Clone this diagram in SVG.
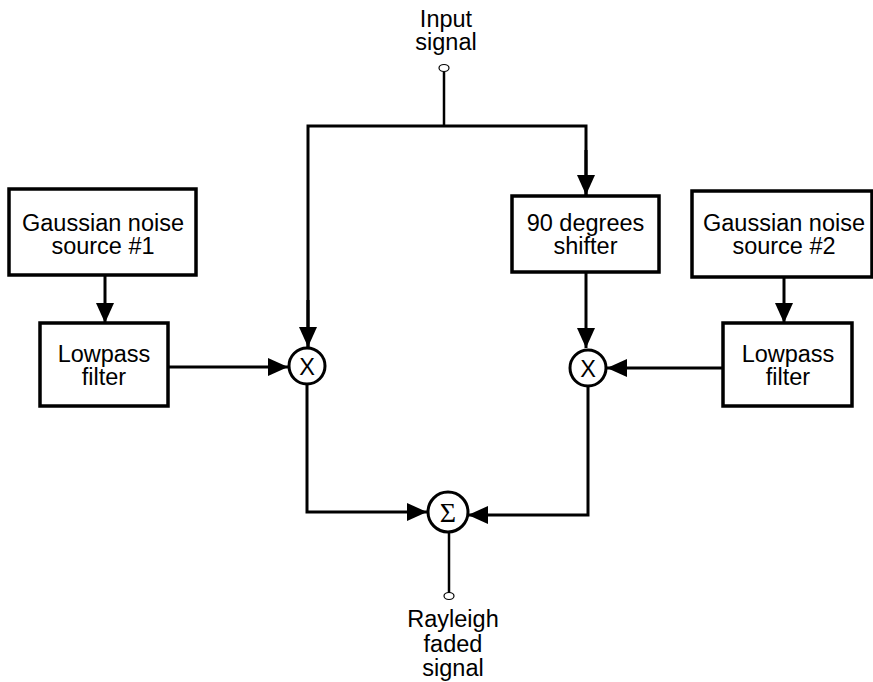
<svg xmlns="http://www.w3.org/2000/svg" width="873" height="682" viewBox="0 0 873 682">
<defs>
<marker id="arr" markerUnits="userSpaceOnUse" markerWidth="20" markerHeight="18" refX="20" refY="9" orient="auto">
<path d="M0,0 L20,9 L0,18 Z" fill="#000"/>
</marker>
<style>
.box{fill:#fff;stroke:#000;stroke-width:3.5}
.op{fill:#fff;stroke:#000;stroke-width:3}
.t{font-family:"Liberation Sans",Arial,Helvetica,sans-serif;font-size:23.5px;fill:#000;text-anchor:middle}
.sym{font-family:"Liberation Serif","Times New Roman",serif;font-size:28px;fill:#000;text-anchor:middle}
.w{fill:none;stroke:#000;stroke-width:3}
.a{fill:none;stroke:#000;stroke-width:3;marker-end:url(#arr)}
.port{fill:#fff;stroke:#000;stroke-width:1.2}
</style>
</defs>
<rect width="873" height="682" fill="#fff"/>
<g id="connectors">
<line class="w" x1="444" y1="72" x2="444" y2="126" style="stroke-width:2.5"/>
<polyline class="w" points="308,349 308,126 586,126 586,196"/>
<line class="a" x1="308" y1="300" x2="308" y2="347"/>
<line class="a" x1="586" y1="150" x2="586" y2="195"/>
<line class="a" x1="105" y1="276" x2="105" y2="323"/>
<line class="a" x1="784" y1="277" x2="784" y2="323"/>
<line class="a" x1="586" y1="272" x2="586" y2="348"/>
<line class="a" x1="168" y1="367" x2="288" y2="367"/>
<line class="a" x1="723" y1="368" x2="607" y2="368"/>
<polyline class="a" points="307,384 307,512 427,512"/>
<polyline class="a" points="588,386 588,515 468,515"/>
<line class="w" x1="449" y1="532" x2="449" y2="593" style="stroke-width:2.5"/>
</g>
<g id="input">
<text class="t" x="446" y="27">Input</text>
<text class="t" x="446" y="50">signal</text>
<ellipse class="port" cx="444" cy="68" rx="5" ry="3.5"/>
</g>
<g id="gauss1">
<rect class="box" x="9" y="189" width="187" height="86"/>
<text class="t" x="103" y="231">Gaussian noise</text>
<text class="t" x="103" y="254">source #1</text>
</g>
<g id="lowpass1">
<rect class="box" x="40" y="323" width="128" height="83"/>
<text class="t" x="104" y="362">Lowpass</text>
<text class="t" x="104" y="385">filter</text>
</g>
<g id="shifter">
<rect class="box" x="512" y="196" width="147" height="76"/>
<text class="t" x="585.5" y="231">90 degrees</text>
<text class="t" x="585.5" y="254">shifter</text>
</g>
<g id="gauss2">
<rect class="box" x="692" y="191" width="180" height="86"/>
<text class="t" x="784" y="231">Gaussian noise</text>
<text class="t" x="784" y="254">source #2</text>
</g>
<g id="lowpass2">
<rect class="box" x="723" y="323" width="129" height="83"/>
<text class="t" x="788" y="362">Lowpass</text>
<text class="t" x="788" y="385">filter</text>
</g>
<g id="mult1">
<circle class="op" cx="307" cy="366" r="18"/>
<text class="t" x="307" y="374.5">X</text>
</g>
<g id="mult2">
<circle class="op" cx="588" cy="368" r="18"/>
<text class="t" x="588" y="376.5">X</text>
</g>
<g id="sum">
<circle class="op" cx="448" cy="512" r="20"/>
<text class="sym" x="448" y="522">Σ</text>
</g>
<g id="output">
<ellipse class="port" cx="449" cy="596" rx="5" ry="3.5"/>
<text class="t" x="453" y="627">Rayleigh</text>
<text class="t" x="453" y="652">faded</text>
<text class="t" x="453" y="676">signal</text>
</g>
</svg>
